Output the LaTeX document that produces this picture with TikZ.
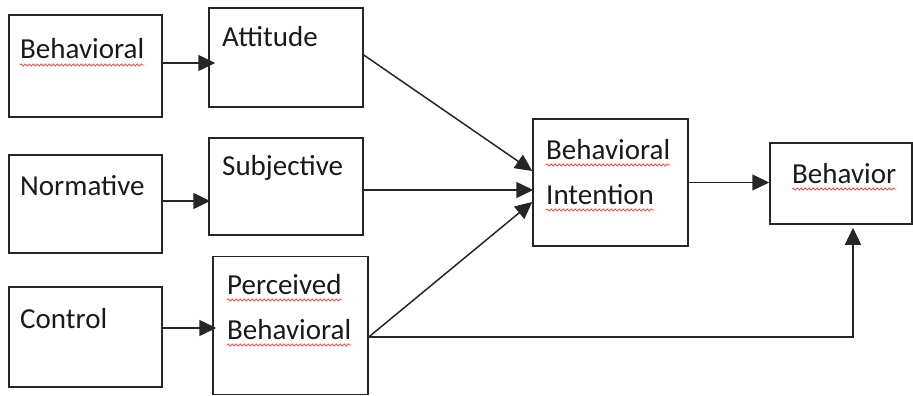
\documentclass[tikz,border=0pt]{standalone}
\usepackage{fontspec}
\setmainfont{Carlito}
\usetikzlibrary{arrows.meta,decorations.pathmorphing}
\begin{document}
\begin{tikzpicture}[x=1pt,y=-1pt,
  box/.style={draw=black!85,line width=1.5pt,minimum width=#1,inner sep=0pt},
  lbl/.style={anchor=base west,inner sep=0pt,text=black!90,font=\fontsize{29}{35}\selectfont},
  link/.style={draw=black!85,line width=1.5pt,-{Triangle[length=17pt,width=16pt]}},
  squiggle/.style={draw=red!70,line width=0.8pt,decorate,decoration={snake,amplitude=1.1pt,segment length=4pt}}]
\useasboundingbox (0,0) rectangle (913,396);

% boxes
\node[box=153pt,minimum height=102pt] (b1) at (85.5,66) {};
\node[box=154pt,minimum height=99pt] (att) at (286,57.5) {};
\node[box=153pt,minimum height=98pt] (nor) at (85.5,204) {};
\node[box=154pt,minimum height=97pt] (sub) at (286,186.5) {};
\node[box=153pt,minimum height=100pt] (con) at (85.5,337) {};
\node[box=155pt,minimum height=138pt] (pbc) at (290.5,325.5) {};
\node[box=155pt,minimum height=127pt] (bi) at (610.5,182.5) {};
\node[box=142pt,minimum height=81pt] (beh) at (841,183.5) {};

% labels
\node[lbl] (tb1) at (20,59) {Behavioral};
\node[lbl] (tatt) at (222,47) {Attitude};
\node[lbl] (tnor) at (20,195) {Normative};
\node[lbl] (tsub) at (222,175) {Subjective};
\node[lbl] (tcon) at (20,328) {Control};
\node[lbl] (tp1) at (227,294) {Perceived};
\node[lbl] (tp2) at (227,339) {Behavioral};
\node[lbl] (tbi1) at (546,159) {Behavioral};
\node[lbl] (tbi2) at (546,204) {Intention};
\node[lbl] (tbeh) at (792,183) {Behavior};

% spelling underlines
\foreach \t in {tb1,tp1,tp2,tbi1,tbi2,tbeh}
  \draw[squiggle] ([yshift=-6pt]\t.base west) -- ([yshift=-6pt]\t.base east);

% connectors
\draw[link] ([yshift=3pt]b1.east) -- ([xshift=7pt,yshift=-5.5pt]att.west);
\draw[link] ([yshift=3pt]nor.east) -- ([xshift=2pt,yshift=-14.5pt]sub.west);
\draw[link] ([yshift=9pt]con.east) -- ([xshift=4pt,yshift=-2.5pt]pbc.west);
\draw[link] ([yshift=2.5pt]att.east) -- ([yshift=11.5pt]bi.west);
\draw[link] ([yshift=-3.5pt]sub.east) -- ([xshift=1pt,yshift=-7.5pt]bi.west);
\draw[link] ([yshift=-11.5pt]pbc.east) -- ([yshift=-19.5pt]bi.west);
\draw[link] (bi.east) -- (bi.east -| beh.west);
\draw[link] ([yshift=-11.5pt]pbc.east) -| ([xshift=12pt,yshift=-3pt]beh.south);
\end{tikzpicture}
\end{document}
